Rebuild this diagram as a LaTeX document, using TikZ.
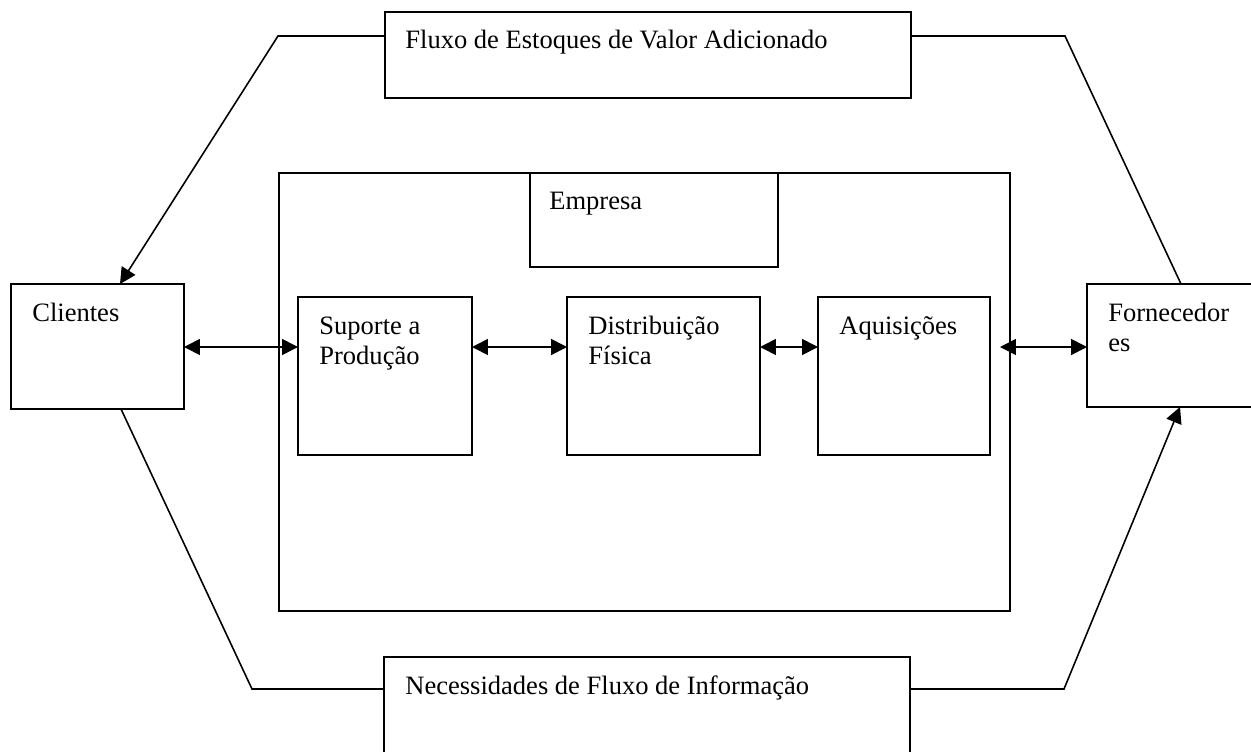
\documentclass[tikz,border=0pt]{standalone}
\usepackage{fontspec}
\setmainfont{Liberation Serif}
\usetikzlibrary{arrows.meta}

\begin{document}
\begin{tikzpicture}
		[x=0.02cm,y=-0.02cm,
		box/.style={draw,line width=0.9pt,inner sep=0pt,outer sep=0pt},
		txt/.style={anchor=base west,inner sep=0pt,align=left,font=\fontsize{15.1}{17.3}\selectfont},
		arr/.style={line width=0.9pt,-{Triangle[length=0.32cm,width=0.32cm]}},
		dbl/.style={line width=0.9pt,{Triangle[length=0.32cm,width=0.32cm]}-{Triangle[length=0.32cm,width=0.32cm]}}]
		\useasboundingbox (0,0) rectangle (1251,751);
		\clip (0,0) rectangle (1251,751);

		% caixas
		\node[box,minimum width=10.52cm,minimum height=1.72cm] (fluxo) at (648,55) {};
		\node[box,minimum width=14.62cm,minimum height=8.76cm] (empresa) at (644.5,392) {};
		\node[box,minimum width=4.96cm,minimum height=1.88cm] (emprtit) at (654,220) {};
		\node[box,minimum width=3.46cm,minimum height=2.5cm] (cli) at (97.5,346.5) {};
		\node[box,minimum width=3.66cm,minimum height=2.46cm] (forn) at (1178.5,345.5) {};
		\node[box,minimum width=3.48cm,minimum height=3.16cm] (sup) at (385,376) {};
		\node[box,minimum width=3.86cm,minimum height=3.16cm] (dist) at (663.5,376) {};
		\node[box,minimum width=3.44cm,minimum height=3.16cm] (aquis) at (904,376) {};
		\node[box,minimum width=10.52cm,minimum height=2.26cm] (neces) at (647,713.5) {};

		% textos (base = ultima linha)
		\node[txt] (fluxot) at ([shift={(20,36)}]fluxo.north west) {Fluxo de Estoques de Valor Adicionado};
		\node[txt] (emprt) at ([shift={(19,36)}]emprtit.north west) {Empresa};
		\node[txt] (clit) at ([shift={(21,37)}]cli.north west) {Clientes};
		\node[txt] (fornt) at ([shift={(21,67.5)}]forn.north west) {Fornecedor\\es};
		\node[txt] (supt) at ([shift={(21,67.5)}]sup.north west) {Suporte a\\Produção};
		\node[txt] (distt) at ([shift={(21,67.5)}]dist.north west) {Distribuição\\Física};
		\node[txt] (aquist) at ([shift={(21,37)}]aquis.north west) {Aquisições};
		\node[txt] (necest) at ([shift={(21,37)}]neces.north west) {Necessidades de Fluxo de Informação};

		\coordinate (row) at (0,347);
		\coordinate (tl) at (278,36);
		\coordinate (tr) at (1065,36);
		\coordinate (bl) at (252,689);
		\coordinate (br) at (1064,689);
		\coordinate (cliin) at (120,284);
		\coordinate (cliout) at (121,409);
		\coordinate (fornin) at (1181,284);
		\coordinate (fornout) at (1180,407);

		% setas horizontais
		\draw[dbl] (cli.east |- row) -- (sup.west |- row);
		\draw[dbl] (sup.east |- row) -- (dist.west |- row);
		\draw[dbl] (dist.east |- row) -- (aquis.west |- row);
		\draw[dbl,shorten <=0.2cm] (aquis.east |- row) -- (forn.west |- row);

		% fluxos externos
		\draw[arr] (fluxo.west |- tl) -- (tl) -- (cliin);
		\draw[line width=0.9pt] (fluxo.east |- tr) -- (tr) -- (fornin);
		\draw[line width=0.9pt] (cliout) -- (bl) -- (neces.west |- bl);
		\draw[arr] (neces.east |- br) -- (br) -- (fornout);

	\end{tikzpicture}
\end{document}
